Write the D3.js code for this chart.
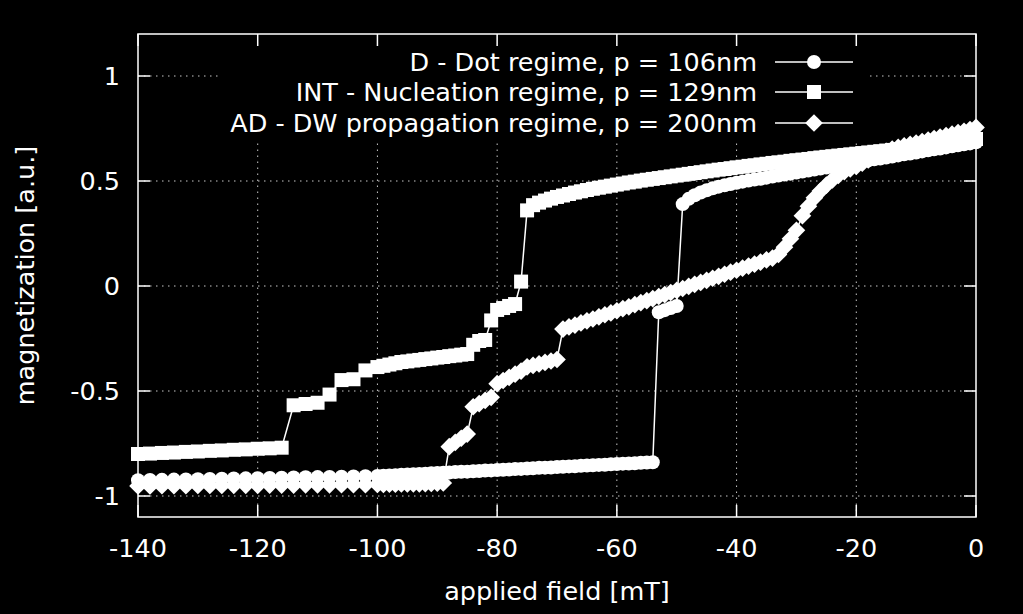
<!DOCTYPE html>
<html>
<head>
<meta charset="utf-8">
<script src="https://cdn.jsdelivr.net/npm/d3@7"></script>
<style>
  html, body { margin: 0; padding: 0; background: #000; }
  svg { display: block; }
  text { font-family: "DejaVu Sans", sans-serif; fill: #fff; }
</style>
</head>
<body>
<div id="chart"></div>
<script>

/*==================================
=            Data                  =
==================================*/

// applied field [mT], shared by the three sweeps (2 mT steps below -100, 1 mT above)
var field = [-140, -138, -136, -134, -132, -130, -128, -126, -124, -122,
    -120, -118, -116, -114, -112, -110, -108, -106, -104, -102,
    -100, -99, -98, -97, -96, -95, -94, -93, -92, -91,
    -90, -89, -88, -87, -86, -85, -84, -83, -82, -81,
    -80, -79, -78, -77, -76, -75, -74, -73, -72, -71,
    -70, -69, -68, -67, -66, -65, -64, -63, -62, -61,
    -60, -59, -58, -57, -56, -55, -54, -53, -52, -51,
    -50, -49, -48, -47, -46, -45, -44, -43, -42, -41,
    -40, -39, -38, -37, -36, -35, -34, -33, -32, -31,
    -30, -29, -28, -27, -26, -25, -24, -23, -22, -21,
    -20, -19, -18, -17, -16, -15, -14, -13, -12, -11,
    -10, -9, -8, -7, -6, -5, -4, -3, -2, -1, 0];

// D - Dot regime, p = 106nm (circles)
var dotM = [-0.925, -0.924, -0.923, -0.922, -0.921, -0.920, -0.919, -0.918, -0.917, -0.916,
    -0.915, -0.914, -0.913, -0.912, -0.911, -0.910, -0.909, -0.908, -0.907, -0.906,
    -0.905, -0.904, -0.902, -0.901, -0.899, -0.898, -0.896, -0.895, -0.894, -0.892,
    -0.891, -0.889, -0.888, -0.886, -0.885, -0.884, -0.882, -0.881, -0.879, -0.878,
    -0.876, -0.875, -0.874, -0.872, -0.871, -0.869, -0.868, -0.866, -0.865, -0.864,
    -0.862, -0.861, -0.859, -0.858, -0.856, -0.855, -0.854, -0.852, -0.851, -0.849,
    -0.848, -0.846, -0.845, -0.844, -0.842, -0.841, -0.839, -0.125, -0.115, -0.105,
    -0.095, 0.390, 0.415, 0.432, 0.445, 0.456, 0.465, 0.473, 0.480, 0.486,
    0.492, 0.497, 0.502, 0.507, 0.511, 0.516, 0.521, 0.526, 0.531, 0.535,
    0.540, 0.545, 0.550, 0.555, 0.559, 0.564, 0.569, 0.574, 0.579, 0.583,
    0.588, 0.593, 0.598, 0.603, 0.607, 0.612, 0.617, 0.622, 0.627, 0.631,
    0.636, 0.641, 0.646, 0.651, 0.655, 0.660, 0.665, 0.670, 0.675, 0.679, 0.684];

// INT - Nucleation regime, p = 129nm (squares)
var intM = [-0.800, -0.798, -0.795, -0.793, -0.790, -0.788, -0.785, -0.783, -0.780, -0.778,
    -0.775, -0.773, -0.770, -0.568, -0.562, -0.556, -0.517, -0.448, -0.444, -0.402,
    -0.386, -0.380, -0.374, -0.368, -0.362, -0.359, -0.355, -0.352, -0.348, -0.345,
    -0.341, -0.338, -0.334, -0.331, -0.327, -0.324, -0.280, -0.262, -0.257, -0.164,
    -0.114, -0.105, -0.095, -0.086, 0.021, 0.360, 0.385, 0.397, 0.407, 0.416,
    0.424, 0.431, 0.438, 0.445, 0.451, 0.457, 0.463, 0.468, 0.473, 0.478,
    0.483, 0.488, 0.493, 0.497, 0.502, 0.506, 0.510, 0.514, 0.518, 0.522,
    0.526, 0.530, 0.534, 0.538, 0.542, 0.546, 0.550, 0.554, 0.557, 0.561,
    0.565, 0.568, 0.572, 0.575, 0.579, 0.582, 0.586, 0.589, 0.592, 0.596,
    0.599, 0.602, 0.605, 0.609, 0.612, 0.615, 0.618, 0.621, 0.624, 0.627,
    0.630, 0.633, 0.636, 0.639, 0.642, 0.645, 0.648, 0.651, 0.654, 0.657,
    0.660, 0.664, 0.668, 0.672, 0.676, 0.680, 0.684, 0.688, 0.692, 0.696, 0.700];

// AD - DW propagation regime, p = 200nm (diamonds)
var adM = [-0.952, -0.952, -0.951, -0.951, -0.951, -0.950, -0.950, -0.950, -0.949, -0.949,
    -0.949, -0.948, -0.948, -0.948, -0.947, -0.947, -0.947, -0.946, -0.946, -0.946,
    -0.945, -0.945, -0.944, -0.944, -0.943, -0.943, -0.942, -0.942, -0.941, -0.940,
    -0.939, -0.938, -0.765, -0.745, -0.725, -0.705, -0.575, -0.560, -0.545, -0.530,
    -0.465, -0.450, -0.435, -0.420, -0.405, -0.385, -0.378, -0.371, -0.364, -0.357,
    -0.350, -0.205, -0.195, -0.186, -0.176, -0.166, -0.157, -0.147, -0.137, -0.128,
    -0.118, -0.108, -0.099, -0.089, -0.079, -0.070, -0.060, -0.050, -0.041, -0.031,
    -0.021, -0.012, -0.002, 0.008, 0.017, 0.027, 0.037, 0.046, 0.056, 0.066,
    0.075, 0.085, 0.095, 0.104, 0.114, 0.124, 0.133, 0.150, 0.185, 0.225,
    0.265, 0.335, 0.380, 0.420, 0.452, 0.480, 0.505, 0.527, 0.545, 0.558,
    0.570, 0.585, 0.600, 0.614, 0.628, 0.641, 0.652, 0.660, 0.667, 0.674,
    0.681, 0.688, 0.695, 0.702, 0.709, 0.716, 0.723, 0.730, 0.737, 0.745, 0.755];

var seriesNames = ["D - Dot regime, p = 106nm",
    "INT - Nucleation regime, p = 129nm",
    "AD - DW propagation regime, p = 200nm"];

var xTicks = [-140, -120, -100, -80, -60, -40, -20, 0];
var xTickLabels = ["-140", "-120", "-100", "-80", "-60", "-40", "-20", "0"];
var yTicks = [-1, -0.5, 0, 0.5, 1];
var yTickLabels = ["-1", "-0.5", "0", "0.5", "1"];

/*==================================
=            Layout                =
==================================*/

var width = 1023,
    height = 614;

var x = d3.scaleLinear().domain([-140, 0]).range([138, 976]);
var y = d3.scaleLinear().domain([-1.1, 1.2]).range([517, 34]);

var plotLeft = x.range()[0], plotRight = x.range()[1];
var plotTop = y.range()[1], plotBottom = y.range()[0];

var fontSize = 25.5;
var tickLen = 12;

var svg = d3.select("#chart").append("svg")
    .attr("width", width)
    .attr("height", height);

svg.append("rect")
    .attr("width", width)
    .attr("height", height)
    .attr("fill", "#000");

// dotted grid
var grid = svg.append("g")
    .attr("stroke", "#c8c8c8")
    .attr("stroke-width", 1)
    .attr("stroke-dasharray", "1.5,4.5");

grid.selectAll(".gx")
    .data(xTicks.slice(1, -1))
    .enter().append("line")
    .attr("x1", function(d) { return x(d); })
    .attr("x2", function(d) { return x(d); })
    .attr("y1", plotBottom)
    .attr("y2", plotTop);

grid.selectAll(".gy")
    .data(yTicks)
    .enter().append("line")
    .attr("x1", plotLeft)
    .attr("x2", plotRight)
    .attr("y1", function(d) { return y(d); })
    .attr("y2", function(d) { return y(d); });

// opaque key box hides the grid behind the legend
svg.append("rect")
    .attr("x", 220)
    .attr("y", plotTop)
    .attr("width", 866 - 220)
    .attr("height", 139 - plotTop)
    .attr("fill", "#000");

/*==================================
=            Series                =
==================================*/

function symbolFor(i) {
    if (i === 0) return d3.symbol(d3.symbolCircle, Math.PI * 7 * 7)();
    if (i === 1) return d3.symbol(d3.symbolSquare, 14 * 14)();
    return d3.symbol(d3.symbolSquare, 12.5 * 12.5)(); // rotated 45 deg -> diamond
}

function symbolTransform(i, px, py) {
    var t = "translate(" + px + "," + py + ")";
    if (i === 2) t += " rotate(45)";
    return t;
}

var allSeries = [dotM, intM, adM];

var line = d3.line()
    .x(function(d) { return x(d[0]); })
    .y(function(d) { return y(d[1]); });

allSeries.forEach(function(values, i) {
    var pts = field.map(function(f, j) { return [f, values[j]]; });
    var g = svg.append("g");

    g.append("path")
        .datum(pts)
        .attr("d", line)
        .attr("fill", "none")
        .attr("stroke", "#fff")
        .attr("stroke-width", 1.5);

    g.selectAll("path.pt")
        .data(pts)
        .enter().append("path")
        .attr("class", "pt")
        .attr("d", symbolFor(i))
        .attr("transform", function(d) { return symbolTransform(i, x(d[0]), y(d[1])); })
        .attr("fill", "#fff");
});

/*==================================
=            Frame & axes          =
==================================*/

var frame = svg.append("g")
    .attr("stroke", "#fff")
    .attr("stroke-width", 1.5);

frame.append("rect")
    .attr("x", plotLeft)
    .attr("y", plotTop)
    .attr("width", plotRight - plotLeft)
    .attr("height", plotBottom - plotTop)
    .attr("fill", "none");

// ticks on all four sides, pointing inwards (mirrored)
xTicks.forEach(function(d) {
    frame.append("line").attr("x1", x(d)).attr("x2", x(d)).attr("y1", plotBottom).attr("y2", plotBottom - tickLen);
    frame.append("line").attr("x1", x(d)).attr("x2", x(d)).attr("y1", plotTop).attr("y2", plotTop + tickLen);
});
yTicks.forEach(function(d) {
    frame.append("line").attr("x1", plotLeft).attr("x2", plotLeft + tickLen).attr("y1", y(d)).attr("y2", y(d));
    frame.append("line").attr("x1", plotRight).attr("x2", plotRight - tickLen).attr("y1", y(d)).attr("y2", y(d));
});

svg.selectAll(".xlab")
    .data(xTicks)
    .enter().append("text")
    .attr("x", function(d) { return x(d); })
    .attr("y", 557)
    .attr("text-anchor", "middle")
    .style("font-size", fontSize + "px")
    .text(function(d, i) { return xTickLabels[i]; });

svg.selectAll(".ylab")
    .data(yTicks)
    .enter().append("text")
    .attr("x", 120)
    .attr("y", function(d) { return y(d); })
    .attr("dy", "0.36em")
    .attr("text-anchor", "end")
    .style("font-size", fontSize + "px")
    .text(function(d, i) { return yTickLabels[i]; });

svg.append("text")
    .attr("x", (plotLeft + plotRight) / 2)
    .attr("y", 600)
    .attr("text-anchor", "middle")
    .style("font-size", fontSize + "px")
    .text("applied field [mT]");

svg.append("text")
    .attr("transform", "translate(34," + ((plotTop + plotBottom) / 2) + ") rotate(-90)")
    .attr("text-anchor", "middle")
    .style("font-size", fontSize + "px")
    .text("magnetization [a.u.]");

/*==================================
=            Legend                =
==================================*/

var legendRows = [62, 92, 123];

var legend = svg.append("g");

seriesNames.forEach(function(name, i) {
    var ly = legendRows[i];
    legend.append("text")
        .attr("x", 757)
        .attr("y", ly)
        .attr("dy", "0.36em")
        .attr("text-anchor", "end")
        .style("font-size", fontSize + "px")
        .text(name);
    legend.append("line")
        .attr("x1", 775)
        .attr("x2", 853)
        .attr("y1", ly)
        .attr("y2", ly)
        .attr("stroke", "#fff")
        .attr("stroke-width", 1.5);
    legend.append("path")
        .attr("d", symbolFor(i))
        .attr("transform", symbolTransform(i, 814, ly))
        .attr("fill", "#fff");
});

</script>
</body>
</html>
